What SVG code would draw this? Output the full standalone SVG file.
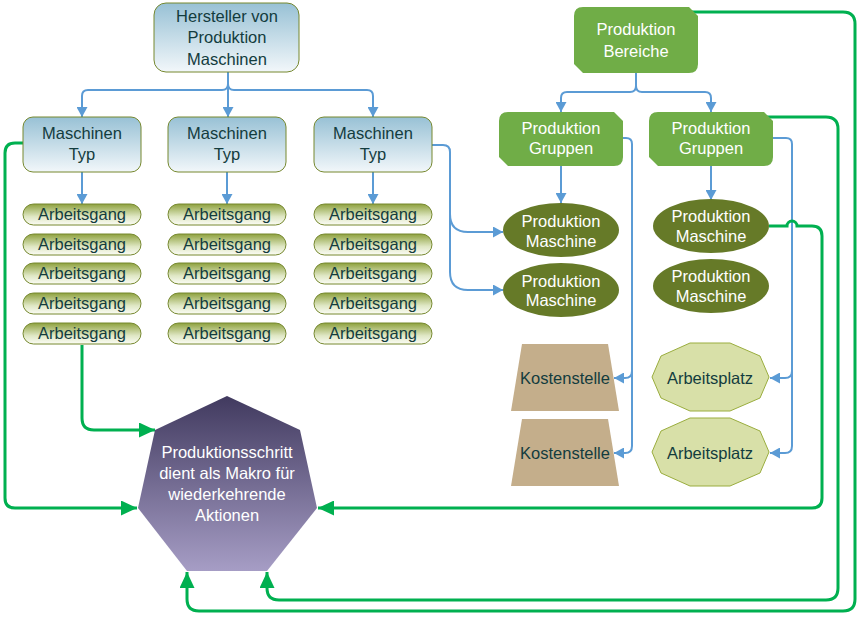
<svg xmlns="http://www.w3.org/2000/svg" width="861" height="617" viewBox="0 0 861 617">
<defs>
<linearGradient id="gBlue" x1="0" y1="0" x2="0" y2="1"><stop offset="0" stop-color="#98c1d5"/><stop offset="1" stop-color="#f2f7fa"/></linearGradient>
<linearGradient id="gPill" x1="0" y1="0" x2="0" y2="1"><stop offset="0" stop-color="#8ea13e"/><stop offset="0.6" stop-color="#dfe7c4"/><stop offset="1" stop-color="#fbfcf5"/></linearGradient>
<linearGradient id="gHept" x1="0" y1="0" x2="0" y2="1"><stop offset="0" stop-color="#413a5f"/><stop offset="1" stop-color="#a69dc5"/></linearGradient>
<marker id="aB" markerUnits="userSpaceOnUse" markerWidth="11" markerHeight="11" refX="10" refY="5.5" orient="auto"><path d="M0,0 L10,5.5 L0,11 z" fill="#5b9bd5"/></marker>
<marker id="aG" markerUnits="userSpaceOnUse" markerWidth="17" markerHeight="15" refX="16" refY="7.5" orient="auto"><path d="M0,0 L16,7.5 L0,15 z" fill="#00b050"/></marker>
</defs>
<style>
.t{font-family:"Liberation Sans",Arial,sans-serif;font-size:16.5px;text-anchor:middle}
.dk{fill:#133c3e}
.wt{fill:#ffffff}
.bx{fill:url(#gBlue);stroke:#76882f;stroke-width:1}
.pill{fill:url(#gPill);stroke:#76882f;stroke-width:1}
.grp{fill:#70ad47}
.ov{fill:#667a28}
.ks{fill:#c4ae8b}
.ap{fill:#d8e0a8;stroke:#9aad3e;stroke-width:1}
.cb{fill:none;stroke:#5b9bd5;stroke-width:2;marker-end:url(#aB)}
.cg{fill:none;stroke:#00b050;stroke-width:3;marker-end:url(#aG)}
</style>
<g id="connectors">
<path class="cb" d="M228,72 V84 Q228,90 222,90 H88 Q82,90 82,96 V117"/>
<path class="cb" d="M228,72 V117"/>
<path class="cb" d="M228,72 V84 Q228,90 234,90 H367 Q373,90 373,96 V117"/>
<path class="cb" d="M82,172 V204"/>
<path class="cb" d="M227,172 V204"/>
<path class="cb" d="M373,172 V204"/>
<path class="cb" d="M432,145 H443 Q450,145 450,152 V214 Q450,232 468,232 H503"/>
<path class="cb" d="M450,214 V272 Q450,290 468,290 H503"/>
<path class="cb" d="M636,73 V86 Q636,92 630,92 H567 Q561,92 561,98 V112"/>
<path class="cb" d="M636,73 V86 Q636,92 642,92 H705 Q711,92 711,98 V112"/>
<path class="cb" d="M561,166 V203"/>
<path class="cb" d="M711,166 V200"/>
<path class="cb" d="M623,138 H626 Q632,138 632,144 V371 Q632,378 625,378 H614"/>
<path class="cb" d="M632,371 V446 Q632,453 625,453 H614"/>
<path class="cb" d="M773,138 H786 Q792,138 792,144 V371 Q792,378 785,378 H770"/>
<path class="cb" d="M792,371 V446 Q792,453 785,453 H770"/>
<path class="cg" d="M23,143 H15 Q5,143 5,153 V498 Q5,508 15,508 H137"/>
<path class="cg" d="M82,345 V418 Q82,430 94,430 H155"/>
<path class="cg" d="M769,226 H787 A5,5 0 0 1 797,226 H812 Q822,226 822,236 V498 Q822,508 812,508 H318"/>
<path class="cg" d="M766,117 H826 Q838,117 838,129 V588 Q838,600 826,600 H279 Q267,600 267,588 V572"/>
<path class="cg" d="M692,12 H843 Q855,12 855,24 V599 Q855,611 843,611 H199 Q187,611 187,599 V572"/>
</g>
<g id="hersteller"><rect class="bx" x="154" y="3" width="145" height="69" rx="12"/><text class="t dk" x="227" y="21.5">Hersteller von</text><text class="t dk" x="227" y="43">Produktion</text><text class="t dk" x="227" y="64.5">Maschinen</text></g>
<g id="typ1"><rect class="bx" x="23" y="117" width="118" height="55" rx="10"/><text class="t dk" x="82" y="138.5">Maschinen</text><text class="t dk" x="82" y="159.5">Typ</text></g>
<g id="typ2"><rect class="bx" x="168" y="117" width="118" height="55" rx="10"/><text class="t dk" x="227" y="138.5">Maschinen</text><text class="t dk" x="227" y="159.5">Typ</text></g>
<g id="typ3"><rect class="bx" x="314" y="117" width="118" height="55" rx="10"/><text class="t dk" x="373" y="138.5">Maschinen</text><text class="t dk" x="373" y="159.5">Typ</text></g>
<g id="ag1-1"><rect class="pill" x="23" y="204" width="118" height="21" rx="10.5"/><text class="t dk" x="82" y="220">Arbeitsgang</text></g>
<g id="ag1-2"><rect class="pill" x="23" y="234" width="118" height="21" rx="10.5"/><text class="t dk" x="82" y="250">Arbeitsgang</text></g>
<g id="ag1-3"><rect class="pill" x="23" y="263" width="118" height="21" rx="10.5"/><text class="t dk" x="82" y="279">Arbeitsgang</text></g>
<g id="ag1-4"><rect class="pill" x="23" y="293" width="118" height="21" rx="10.5"/><text class="t dk" x="82" y="309">Arbeitsgang</text></g>
<g id="ag1-5"><rect class="pill" x="23" y="323" width="118" height="21" rx="10.5"/><text class="t dk" x="82" y="339">Arbeitsgang</text></g>
<g id="ag2-1"><rect class="pill" x="168" y="204" width="118" height="21" rx="10.5"/><text class="t dk" x="227" y="220">Arbeitsgang</text></g>
<g id="ag2-2"><rect class="pill" x="168" y="234" width="118" height="21" rx="10.5"/><text class="t dk" x="227" y="250">Arbeitsgang</text></g>
<g id="ag2-3"><rect class="pill" x="168" y="263" width="118" height="21" rx="10.5"/><text class="t dk" x="227" y="279">Arbeitsgang</text></g>
<g id="ag2-4"><rect class="pill" x="168" y="293" width="118" height="21" rx="10.5"/><text class="t dk" x="227" y="309">Arbeitsgang</text></g>
<g id="ag2-5"><rect class="pill" x="168" y="323" width="118" height="21" rx="10.5"/><text class="t dk" x="227" y="339">Arbeitsgang</text></g>
<g id="ag3-1"><rect class="pill" x="314" y="204" width="118" height="21" rx="10.5"/><text class="t dk" x="373" y="220">Arbeitsgang</text></g>
<g id="ag3-2"><rect class="pill" x="314" y="234" width="118" height="21" rx="10.5"/><text class="t dk" x="373" y="250">Arbeitsgang</text></g>
<g id="ag3-3"><rect class="pill" x="314" y="263" width="118" height="21" rx="10.5"/><text class="t dk" x="373" y="279">Arbeitsgang</text></g>
<g id="ag3-4"><rect class="pill" x="314" y="293" width="118" height="21" rx="10.5"/><text class="t dk" x="373" y="309">Arbeitsgang</text></g>
<g id="ag3-5"><rect class="pill" x="314" y="323" width="118" height="21" rx="10.5"/><text class="t dk" x="373" y="339">Arbeitsgang</text></g>
<g id="bereiche"><path class="grp" d="M583,7 H689 L698,16 V64 Q698,73 689,73 H583 L574,64 V16 Q574,7 583,7 Z"/><text class="t wt" x="636" y="34.5">Produktion</text><text class="t wt" x="636" y="56.5">Bereiche</text></g>
<g id="gruppen1"><path class="grp" d="M508,112 H614 L623,121 V157 Q623,166 614,166 H508 L499,157 V121 Q499,112 508,112 Z"/><text class="t wt" x="561" y="133.5">Produktion</text><text class="t wt" x="561" y="153.5">Gruppen</text></g>
<g id="gruppen2"><path class="grp" d="M658,112 H764 L773,121 V157 Q773,166 764,166 H658 L649,157 V121 Q649,112 658,112 Z"/><text class="t wt" x="711" y="133.5">Produktion</text><text class="t wt" x="711" y="153.5">Gruppen</text></g>
<g id="maschine1"><ellipse class="ov" cx="561" cy="230" rx="58" ry="27"/><text class="t wt" x="561" y="226.5">Produktion</text><text class="t wt" x="561" y="246.5">Maschine</text></g>
<g id="maschine2"><ellipse class="ov" cx="561" cy="290" rx="58" ry="27"/><text class="t wt" x="561" y="286.5">Produktion</text><text class="t wt" x="561" y="305.5">Maschine</text></g>
<g id="maschine3"><ellipse class="ov" cx="711" cy="226" rx="58" ry="27"/><text class="t wt" x="711" y="221.5">Produktion</text><text class="t wt" x="711" y="241.5">Maschine</text></g>
<g id="maschine4"><ellipse class="ov" cx="711" cy="286" rx="58" ry="27"/><text class="t wt" x="711" y="281.5">Produktion</text><text class="t wt" x="711" y="301.5">Maschine</text></g>
<g id="kosten1"><path class="ks" d="M522,344 H608 L619,411 H511 Z"/><text class="t dk" x="565" y="383.5">Kostenstelle</text></g>
<g id="kosten2"><path class="ks" d="M522,419 H608 L619,486 H511 Z"/><text class="t dk" x="565" y="458.5">Kostenstelle</text></g>
<g id="platz1"><path class="ap" d="M769,377 L760,356 L730,343 L690,343 L661,356 L652,377 L661,398 L690,411 L730,411 L760,398 Z"/><text class="t dk" x="710" y="383.5">Arbeitsplatz</text></g>
<g id="platz2"><path class="ap" d="M769,452 L760,431 L730,418 L690,418 L661,431 L652,452 L661,473 L690,486 L730,486 L760,473 Z"/><text class="t dk" x="710" y="458.5">Arbeitsplatz</text></g>
<g id="schritt"><path d="M227,396 L300,430 L317,508 L267,571 L187,571 L138,508 L155,430 Z" fill="url(#gHept)"/><text class="t wt" x="227" y="457.5">Produktionsschritt</text><text class="t wt" x="227" y="478.5">dient als Makro für</text><text class="t wt" x="227" y="499.5">wiederkehrende</text><text class="t wt" x="227" y="520.5">Aktionen</text></g>
</svg>
